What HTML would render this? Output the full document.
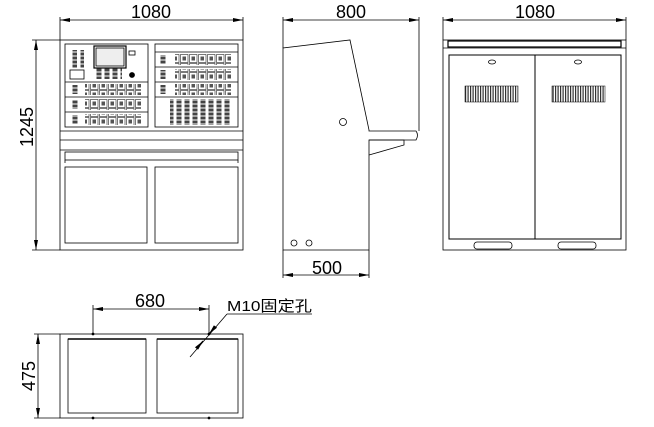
<!DOCTYPE html>
<html><head><meta charset="utf-8"><style>
html,body{margin:0;padding:0;background:#fff;width:654px;height:427px;overflow:hidden}
text{font-family:"Liberation Sans","Noto Sans CJK SC",sans-serif;fill:#000}
</style></head><body>
<svg width="654" height="427" viewBox="0 0 654 427" xmlns="http://www.w3.org/2000/svg" fill="none" stroke="#000" stroke-width="0.8">
<defs>
<marker id="a" viewBox="0 0 10 4" refX="10" refY="2" markerWidth="10" markerHeight="4" orient="auto-start-reverse" markerUnits="userSpaceOnUse"><path d="M0,0 L10,2 L0,4z" fill="#000" stroke="none"/></marker>
<pattern id="g" width="2.5" height="5" patternUnits="userSpaceOnUse"><rect x="0" y="0" width="1.2" height="5" fill="#333" stroke="none"/></pattern>
<pattern id="m" width="9" height="9" patternUnits="userSpaceOnUse"><rect x="0.5" y="0.5" width="7.5" height="8" stroke="#222" stroke-width="0.6"/><rect x="2.5" y="2.5" width="3.5" height="4" fill="#555" stroke="none"/></pattern>
<pattern id="v" width="8" height="4" patternUnits="userSpaceOnUse"><rect x="0.5" y="0.5" width="5" height="3" fill="#444" stroke="none"/></pattern>
</defs>
<!-- FRONT VIEW -->
<line x1="60" y1="20" x2="243" y2="20" marker-start="url(#a)" marker-end="url(#a)"/>
<line x1="60" y1="17" x2="60" y2="40"/><line x1="243" y1="17" x2="243" y2="40"/>
<text x="151" y="18" font-size="18" text-anchor="middle" stroke="none">1080</text>
<line x1="36" y1="40" x2="36" y2="250" marker-start="url(#a)" marker-end="url(#a)"/>
<line x1="32" y1="40" x2="60" y2="40"/><line x1="32" y1="250" x2="60" y2="250"/>
<text x="0" y="0" font-size="18" text-anchor="middle" stroke="none" transform="translate(33,127) rotate(-90)">1245</text>
<rect x="60" y="40" width="183" height="210"/>
<rect x="65" y="44" width="83" height="83"/>
<rect x="155" y="44" width="83" height="83"/>
<line x1="60" y1="131" x2="243" y2="131"/><line x1="60" y1="140" x2="243" y2="140"/><line x1="60" y1="150" x2="243" y2="150"/>
<rect x="65" y="152" width="173" height="8"/>
<line x1="65" y1="160" x2="65" y2="163"/><line x1="238" y1="160" x2="238" y2="163"/>
<rect x="65" y="167" width="82" height="76"/>
<rect x="155" y="167" width="83" height="76"/>
<rect x="94" y="46" width="32" height="22" stroke-width="1.2"/><rect x="96" y="48" width="28" height="18" fill="#eee"/>
<rect x="71" y="50" width="6" height="18" fill="url(#v)" stroke="none"/>
<rect x="78" y="50" width="6" height="18" fill="url(#v)" stroke="none"/>
<rect x="70" y="70" width="14" height="9"/>
<rect x="96" y="68" width="26" height="11" fill="url(#v)" stroke="none"/>
<circle cx="132" cy="75" r="2.5" fill="#000"/>
<rect x="129" y="51" width="6" height="4"/>
<line x1="65" y1="82" x2="148" y2="82"/><line x1="65" y1="97" x2="148" y2="97"/><line x1="65" y1="112" x2="148" y2="112"/>
<rect x="85" y="84" width="56" height="11" fill="url(#m)" stroke="none"/>
<rect x="85" y="99" width="56" height="11" fill="url(#m)" stroke="none"/>
<rect x="85" y="114" width="56" height="11" fill="url(#m)" stroke="none"/>
<rect x="70" y="85" width="8" height="9" fill="url(#v)" stroke="none"/>
<rect x="70" y="100" width="8" height="9" fill="url(#v)" stroke="none"/>
<rect x="70" y="115" width="8" height="9" fill="url(#v)" stroke="none"/>
<line x1="155" y1="52" x2="238" y2="52"/><line x1="155" y1="67" x2="238" y2="67"/><line x1="155" y1="82" x2="238" y2="82"/><line x1="155" y1="97" x2="238" y2="97"/>
<rect x="175" y="54" width="56" height="11" fill="url(#m)" stroke="none"/>
<rect x="175" y="69" width="56" height="11" fill="url(#m)" stroke="none"/>
<rect x="175" y="84" width="56" height="11" fill="url(#m)" stroke="none"/>
<rect x="160" y="55" width="8" height="9" fill="url(#v)" stroke="none"/>
<rect x="160" y="70" width="8" height="9" fill="url(#v)" stroke="none"/>
<rect x="160" y="85" width="8" height="9" fill="url(#v)" stroke="none"/>
<rect x="170" y="99" width="62" height="26" fill="url(#v)" stroke="none"/>
<!-- SIDE VIEW -->
<line x1="283" y1="20" x2="419" y2="20" marker-start="url(#a)" marker-end="url(#a)"/>
<line x1="283" y1="17" x2="283" y2="48"/><line x1="419" y1="17" x2="419" y2="131"/>
<text x="351" y="18" font-size="18" text-anchor="middle" stroke="none">800</text>
<path d="M283,250 L283,48 L350,40 L369,130 L369,131 L416,131 Q419,135 416,140 L369,140 L369,250 Z"/>
<path d="M369,140 L404,140 L404,145 L369,155"/>
<circle cx="343" cy="122" r="3.5"/>
<circle cx="294" cy="243" r="3"/><circle cx="309" cy="243" r="3"/>
<line x1="283" y1="250" x2="283" y2="278"/><line x1="369" y1="250" x2="369" y2="278"/>
<line x1="283" y1="275" x2="369" y2="275" marker-start="url(#a)" marker-end="url(#a)"/>
<text x="327" y="274" font-size="18" text-anchor="middle" stroke="none">500</text>
<!-- REAR VIEW -->
<line x1="443" y1="20" x2="626" y2="20" marker-start="url(#a)" marker-end="url(#a)"/>
<line x1="443" y1="17" x2="443" y2="40"/><line x1="626" y1="17" x2="626" y2="40"/>
<text x="535" y="18" font-size="18" text-anchor="middle" stroke="none">1080</text>
<rect x="443" y="40" width="183" height="210"/>
<rect x="448" y="41" width="173" height="6" stroke-width="1.2"/>
<line x1="443" y1="48" x2="626" y2="48"/>
<rect x="449" y="55" width="172" height="184" stroke-width="1"/>
<line x1="535" y1="55" x2="535" y2="239" stroke-width="1"/>
<rect x="465" y="86" width="53" height="16" fill="url(#g)" stroke-width="0.5"/>
<rect x="552" y="86" width="53" height="16" fill="url(#g)" stroke-width="0.5"/>
<ellipse cx="492" cy="62" rx="3.5" ry="2"/><ellipse cx="578" cy="62" rx="3.5" ry="2"/>
<rect x="474" y="242" width="38" height="7" rx="3"/>
<rect x="558" y="242" width="38" height="7" rx="3"/>
<!-- PLAN VIEW -->
<line x1="93" y1="309" x2="209" y2="309" marker-start="url(#a)" marker-end="url(#a)"/>
<line x1="93" y1="305" x2="93" y2="334"/><line x1="209" y1="305" x2="209" y2="334"/>
<text x="150" y="307" font-size="18" text-anchor="middle" stroke="none">680</text>
<rect x="60" y="334" width="183" height="84"/>
<rect x="68" y="339" width="78" height="74"/>
<rect x="157" y="339" width="81" height="74"/>
<line x1="68" y1="339" x2="146" y2="339" stroke-width="1.5"/><line x1="157" y1="339" x2="238" y2="339" stroke-width="1.5"/>
<circle cx="93" cy="334" r="1" fill="#000"/><circle cx="209" cy="334" r="1" fill="#000"/>
<circle cx="93" cy="418" r="1" fill="#000"/><circle cx="209" cy="418" r="1" fill="#000"/>
<line x1="38" y1="334" x2="38" y2="418" marker-start="url(#a)" marker-end="url(#a)"/>
<line x1="34" y1="334" x2="60" y2="334"/><line x1="34" y1="418" x2="60" y2="418"/>
<text x="0" y="0" font-size="18" text-anchor="middle" stroke="none" transform="translate(35,376) rotate(-90)">475</text>
<text x="227" y="311" font-size="15" stroke="none" textLength="85" lengthAdjust="spacingAndGlyphs" font-family="Liberation Mono,'Noto Sans CJK SC',monospace">M10固定孔</text>
<line x1="227" y1="314" x2="312" y2="314"/>
<line x1="227" y1="314" x2="190" y2="357"/>
<line x1="215" y1="327" x2="209" y2="334" marker-end="url(#a)" stroke-width="1.2"/>
<line x1="197" y1="348" x2="203" y2="341" marker-end="url(#a)" stroke-width="1.2"/>
</svg>
</body></html>
